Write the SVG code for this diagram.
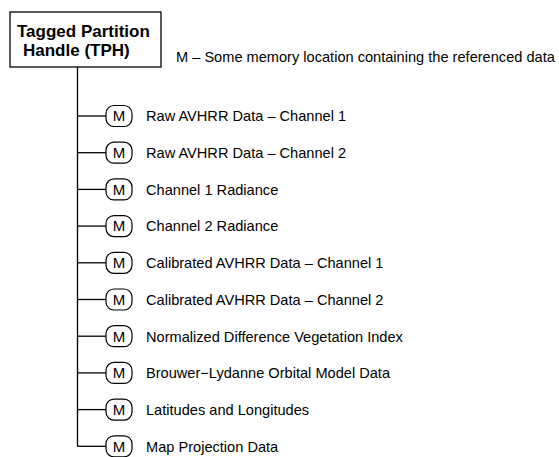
<svg xmlns="http://www.w3.org/2000/svg" width="559" height="457" viewBox="0 0 559 457">
  <style>
    .bg { fill: #ffffff; }
    .frame { fill: #ffffff; stroke: #000000; stroke-width: 1.3; }
    .title { font-family: "Liberation Sans", Arial, sans-serif; font-size: 17px; font-weight: bold; fill: #000000; }
    .label { font-family: "Liberation Sans", Arial, sans-serif; font-size: 14.6px; fill: #000000; }
    .mem { fill: #ffffff; stroke: #000000; stroke-width: 1.2; }
    .memtxt { font-family: "Liberation Sans", Arial, sans-serif; font-size: 15px; fill: #000000; text-anchor: middle; }
    .wire { stroke: #000000; stroke-width: 1.3; fill: none; }
  </style>
  <rect class="bg" x="0" y="0" width="559" height="457"/>

  <!-- handle box -->
  <g id="tph">
    <rect class="frame" x="10" y="12" width="151" height="55"/>
    <text class="title" x="17" y="37">Tagged Partition</text>
    <text class="title" x="23" y="56">Handle (TPH)</text>
  </g>

  <!-- legend -->
  <g id="legend">
    <text class="label" x="176" y="62">M – Some memory location containing the referenced data</text>
  </g>

  <!-- connectors: trunk and branches -->
  <g id="connectors">
    <path class="wire" d="M77.5,67 V446.5"/>
    <path class="wire" d="M77.5,116 H106"/>
    <path class="wire" d="M77.5,152.7 H106"/>
    <path class="wire" d="M77.5,189.4 H106"/>
    <path class="wire" d="M77.5,226.1 H106"/>
    <path class="wire" d="M77.5,262.8 H106"/>
    <path class="wire" d="M77.5,299.5 H106"/>
    <path class="wire" d="M77.5,336.2 H106"/>
    <path class="wire" d="M77.5,372.9 H106"/>
    <path class="wire" d="M77.5,409.6 H106"/>
    <path class="wire" d="M77.5,446.3 H106"/>
  </g>

  <!-- memory locations -->
  <g id="m1"><rect class="mem" x="106" y="105.5" width="26" height="21" rx="8"/><text class="memtxt" x="119" y="121.3">M</text><text class="label" x="146" y="121.3">Raw AVHRR Data – Channel 1</text></g>
  <g id="m2"><rect class="mem" x="106" y="142.2" width="26" height="21" rx="8"/><text class="memtxt" x="119" y="158">M</text><text class="label" x="146" y="158">Raw AVHRR Data – Channel 2</text></g>
  <g id="m3"><rect class="mem" x="106" y="178.9" width="26" height="21" rx="8"/><text class="memtxt" x="119" y="194.7">M</text><text class="label" x="146" y="194.7">Channel 1 Radiance</text></g>
  <g id="m4"><rect class="mem" x="106" y="215.6" width="26" height="21" rx="8"/><text class="memtxt" x="119" y="231.4">M</text><text class="label" x="146" y="231.4">Channel 2 Radiance</text></g>
  <g id="m5"><rect class="mem" x="106" y="252.3" width="26" height="21" rx="8"/><text class="memtxt" x="119" y="268.1">M</text><text class="label" x="146" y="268.1">Calibrated AVHRR Data – Channel 1</text></g>
  <g id="m6"><rect class="mem" x="106" y="289" width="26" height="21" rx="8"/><text class="memtxt" x="119" y="304.8">M</text><text class="label" x="146" y="304.8">Calibrated AVHRR Data – Channel 2</text></g>
  <g id="m7"><rect class="mem" x="106" y="325.7" width="26" height="21" rx="8"/><text class="memtxt" x="119" y="341.5">M</text><text class="label" x="146" y="341.5">Normalized Difference Vegetation Index</text></g>
  <g id="m8"><rect class="mem" x="106" y="362.4" width="26" height="21" rx="8"/><text class="memtxt" x="119" y="378.2">M</text><text class="label" x="146" y="378.2">Brouwer−Lydanne Orbital Model Data</text></g>
  <g id="m9"><rect class="mem" x="106" y="399.1" width="26" height="21" rx="8"/><text class="memtxt" x="119" y="414.9">M</text><text class="label" x="146" y="414.9">Latitudes and Longitudes</text></g>
  <g id="m10"><rect class="mem" x="106" y="435.8" width="26" height="21" rx="8"/><text class="memtxt" x="119" y="451.6">M</text><text class="label" x="146" y="451.6">Map Projection Data</text></g>
</svg>
